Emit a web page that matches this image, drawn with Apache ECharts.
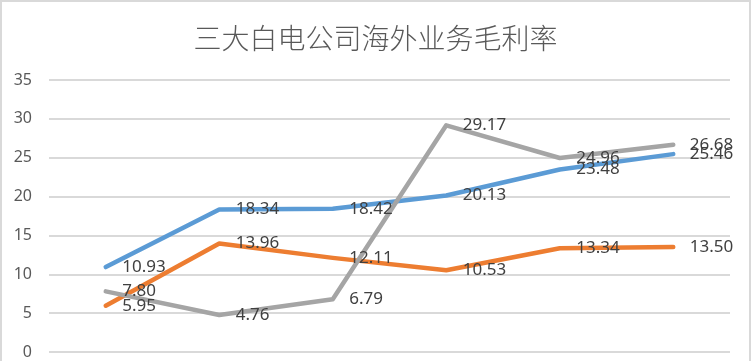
<!DOCTYPE html>
<html>
<head>
<meta charset="utf-8">
<script src="https://cdn.jsdelivr.net/npm/echarts@6/dist/echarts.min.js"></script>
<style>
html,body{margin:0;padding:0;background:#fff;}
#wrap{position:relative;width:751px;height:361px;overflow:hidden;}
#chart{position:absolute;left:0;top:0;width:751px;height:361px;}
#frame{position:absolute;left:0;top:0;width:751px;height:370px;box-sizing:border-box;border:2px solid #d9d9d9;pointer-events:none;}
</style>
</head>
<body>
<div id="wrap"><div id="chart"></div><div id="frame"></div></div>
<script>
var titleText = '三大白电公司海外业务毛利率';
var categories = ['1', '2', '3', '4', '5', '6'];
var seriesNames = ['系列1', '系列2', '系列3'];
var blueValues = [10.93, 18.34, 18.42, 20.13, 23.48, 25.46];
var orangeValues = [5.95, 13.96, 12.11, 10.53, 13.34, 13.50];
var grayValues = [7.80, 4.76, 6.79, 29.17, 24.96, 26.68];
var yTicks = {min: 0, max: 35, interval: 5};

var colors = ['#5B9BD5', '#ED7D31', '#A5A5A5'];
var font = '"Noto Sans", "Noto Sans CJK SC", sans-serif';

function mkSeries(name, values, color) {
  return {
    name: name,
    type: 'line',
    data: values,
    symbol: 'circle',
    symbolSize: 1,
    showSymbol: true,
    itemStyle: {color: color},
    lineStyle: {color: color, width: 4.5, cap: 'round', join: 'round'},
    label: {
      show: true,
      position: 'right',
      distance: 16,
      color: '#404040',
      fontSize: 17,
      fontFamily: font,
      formatter: function (p) { return Number(p.value).toFixed(2); }
    },
    emphasis: {disabled: true},
    animation: false
  };
}

var chart = echarts.init(document.getElementById('chart'), null, {renderer: 'canvas'});
chart.setOption({
  animation: false,
  title: {
    text: titleText,
    left: 'center',
    top: 19,
    textStyle: {color: '#595959', fontSize: 28, fontWeight: 300, fontFamily: '"Noto Sans CJK SC", sans-serif'}
  },
  grid: {left: 49, right: 21, top: 80, bottom: 9, containLabel: false},
  xAxis: {
    type: 'category',
    data: categories,
    boundaryGap: true,
    axisLine: {show: false},
    axisTick: {show: false},
    axisLabel: {show: false},
    splitLine: {show: false}
  },
  yAxis: {
    type: 'value',
    min: yTicks.min,
    max: yTicks.max,
    interval: yTicks.interval,
    axisLine: {show: false},
    axisTick: {show: false},
    axisLabel: {color: '#595959', fontSize: 16, margin: 17, fontFamily: font},
    splitLine: {lineStyle: {color: '#D9D9D9', width: 2}}
  },
  series: [
    mkSeries(seriesNames[0], blueValues, colors[0]),
    mkSeries(seriesNames[1], orangeValues, colors[1]),
    mkSeries(seriesNames[2], grayValues, colors[2])
  ]
});
</script>
</body>
</html>
